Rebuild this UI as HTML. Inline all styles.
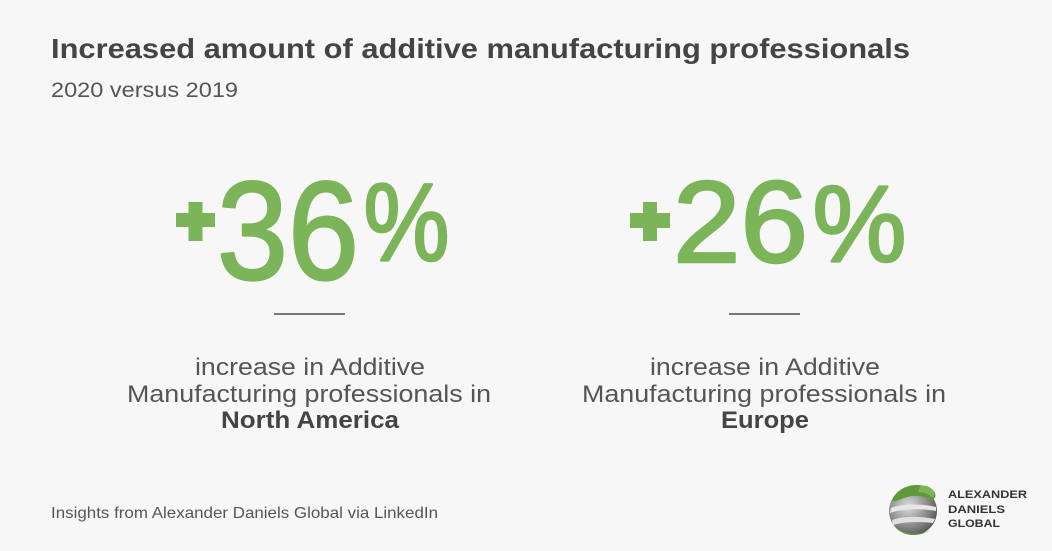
<!DOCTYPE html>
<html><head><meta charset="utf-8"><style>
html,body{margin:0;padding:0;background:#f7f7f7;}
svg{display:block;}
text{font-family:"Liberation Sans",sans-serif;}
</style></head><body>
<svg width="1052" height="551" viewBox="0 0 1052 551" xmlns="http://www.w3.org/2000/svg">
<rect width="1052" height="551" fill="#f7f7f7"/>
<text x="51" y="58" font-size="28" font-weight="bold" fill="#444" textLength="859" lengthAdjust="spacingAndGlyphs">Increased amount of additive manufacturing professionals</text>
<text x="51" y="97" font-size="21" fill="#555" textLength="187" lengthAdjust="spacingAndGlyphs">2020 versus 2019</text>

<g fill="#7cb45a" stroke="#7cb45a" stroke-width="2.5" stroke-linejoin="round">
<text x="217" y="279" font-size="140" textLength="142" lengthAdjust="spacingAndGlyphs">36</text>
<text x="363.5" y="260.5" font-size="110" textLength="86" lengthAdjust="spacingAndGlyphs">%</text>
<text x="673" y="262" font-size="116" textLength="135" lengthAdjust="spacingAndGlyphs">26</text>
<text x="812.5" y="261.5" font-size="109" textLength="94" lengthAdjust="spacingAndGlyphs">%</text>
</g>
<g fill="#7cb45a">
<rect x="176" y="213" width="39" height="14"/>
<rect x="188.5" y="202" width="14" height="39"/>
<rect x="630" y="213" width="40" height="15"/>
<rect x="643" y="202" width="14" height="39"/>
</g>

<rect x="274" y="313" width="71" height="2" fill="#777"/>
<rect x="729" y="313" width="71" height="2" fill="#777"/>

<g fill="#555" font-size="24">
<text x="195" y="375" textLength="230" lengthAdjust="spacingAndGlyphs">increase in Additive</text>
<text x="127" y="402" textLength="364" lengthAdjust="spacingAndGlyphs">Manufacturing professionals in</text>
<text x="650" y="375" textLength="230" lengthAdjust="spacingAndGlyphs">increase in Additive</text>
<text x="582" y="402" textLength="364" lengthAdjust="spacingAndGlyphs">Manufacturing professionals in</text>
</g>
<g fill="#444" font-size="24" font-weight="bold">
<text x="221" y="428" textLength="178" lengthAdjust="spacingAndGlyphs">North America</text>
<text x="721" y="428" textLength="88" lengthAdjust="spacingAndGlyphs">Europe</text>
</g>

<text x="51" y="518" font-size="16" fill="#555" textLength="387" lengthAdjust="spacingAndGlyphs">Insights from Alexander Daniels Global via LinkedIn</text>

<defs>
<radialGradient id="gg" cx="0.4" cy="0.4" r="0.7">
<stop offset="0" stop-color="#dcdcdc"/>
<stop offset="0.6" stop-color="#8a8a8a"/>
<stop offset="1" stop-color="#4a4a4a"/>
</radialGradient>
</defs>
<circle cx="913" cy="511" r="24" fill="url(#gg)"/>
<path d="M892 500 C898 486 915 482 928 487 C936 490 938 498 932 500 C924 496 914 494 904 498 C898 500 894 503 892 500 Z" fill="#5f9a3a"/>
<path d="M920 486 C930 484 937 492 933 498 C929 494 924 492 918 492 Z" fill="#7cb45a"/>
<path d="M891 508 C900 504 920 503 936 507 L936 511 C920 508 900 509 890 513 Z" fill="#e6e6e6"/>
<path d="M892 520 C902 516 920 516 935 519 L933 523 C918 521 902 522 893 525 Z" fill="#e0e0e0"/>
<path d="M896 528 C905 534 920 536 930 530 C922 536 906 538 896 528 Z" fill="#5f9a3a"/>

<g fill="#333" font-size="11" font-weight="bold">
<text x="948" y="498" textLength="79" lengthAdjust="spacingAndGlyphs">ALEXANDER</text>
<text x="948" y="513" textLength="57" lengthAdjust="spacingAndGlyphs">DANIELS</text>
<text x="948" y="527" textLength="52" lengthAdjust="spacingAndGlyphs">GLOBAL</text>
</g>
</svg>
</body></html>
